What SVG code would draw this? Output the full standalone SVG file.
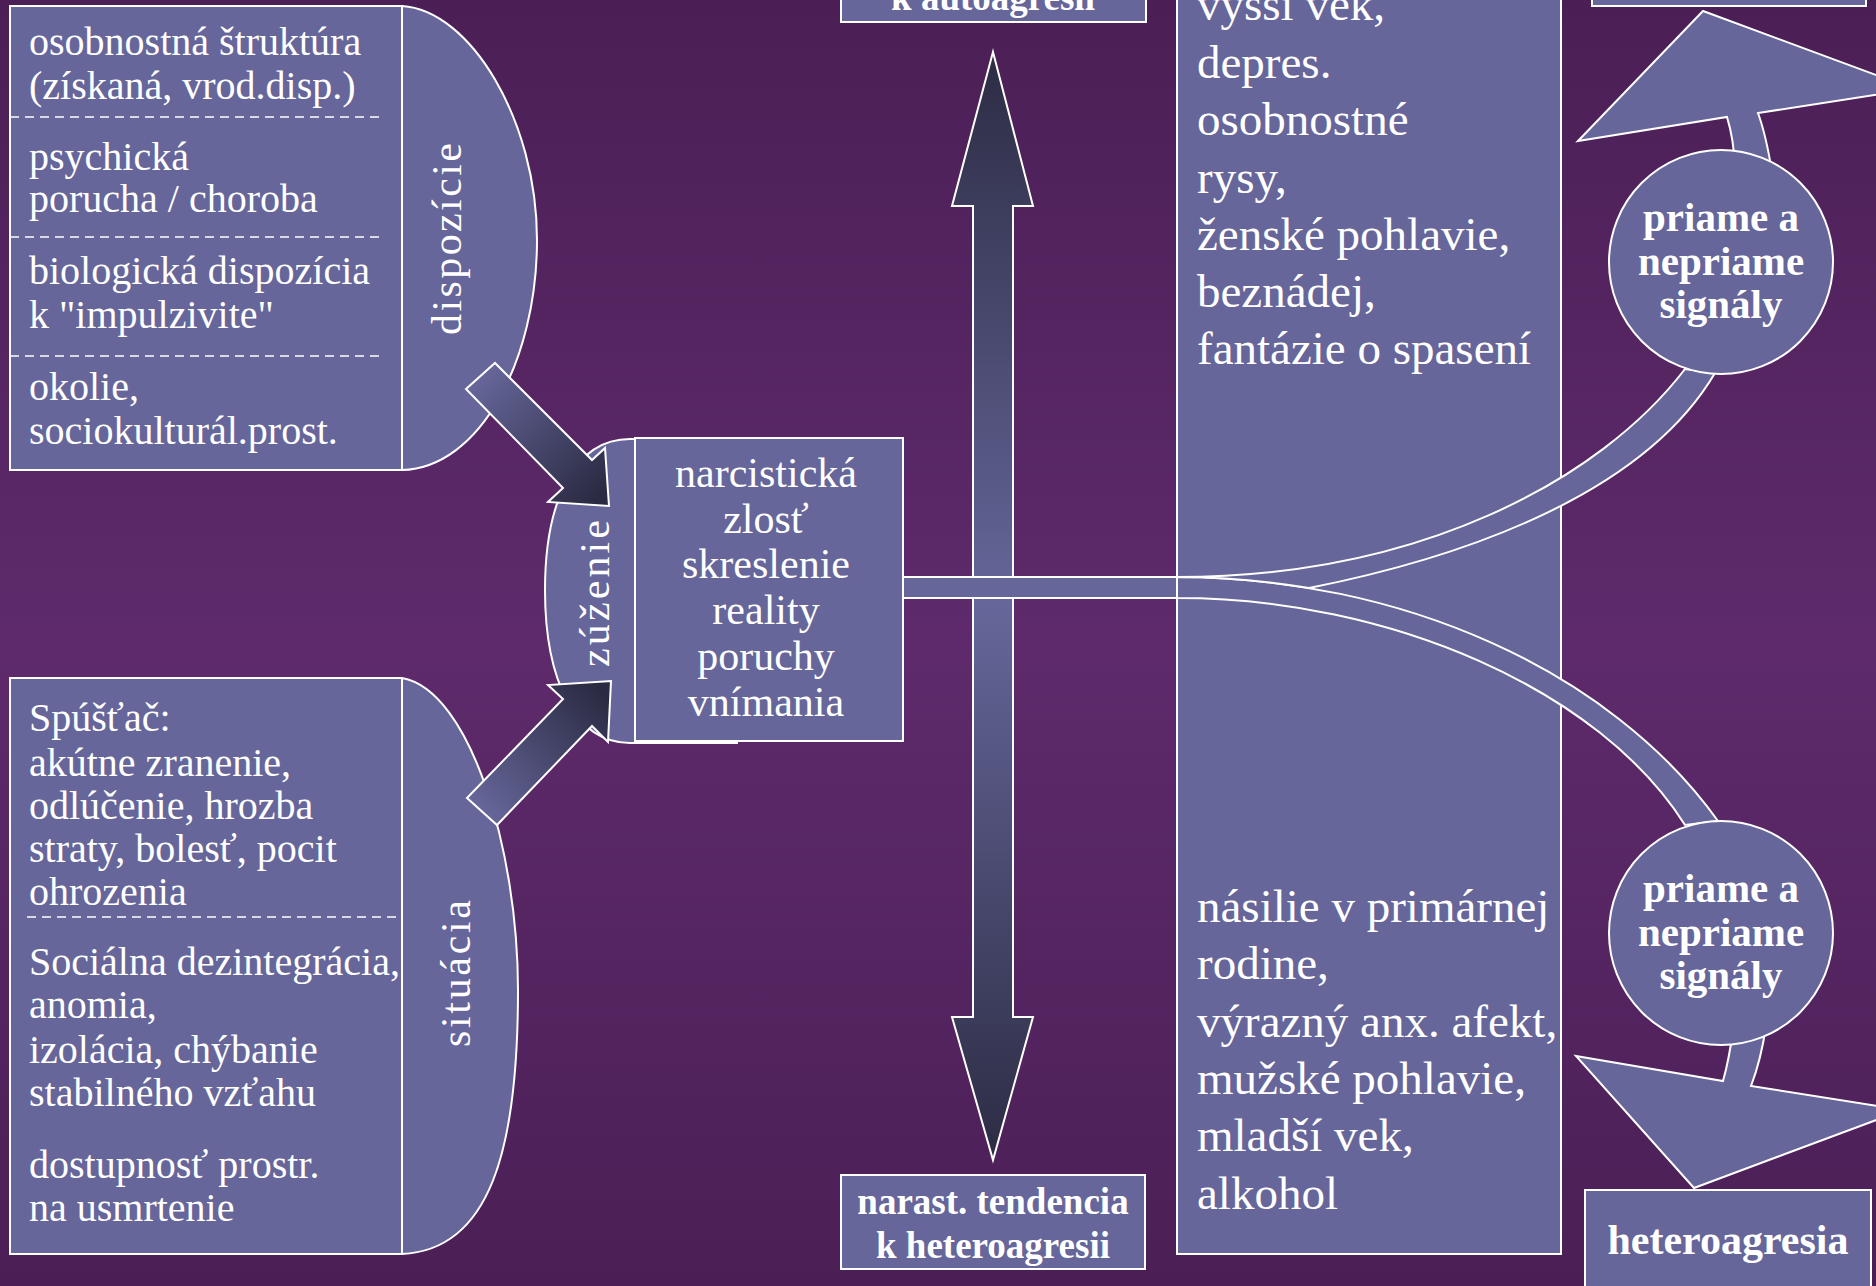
<svg xmlns="http://www.w3.org/2000/svg" width="1876" height="1286" viewBox="0 0 1876 1286">
<defs>
<linearGradient id="bg" x1="0" y1="0" x2="0" y2="1">
<stop offset="0" stop-color="#4b1f56"/>
<stop offset="0.5" stop-color="#5e2a6b"/>
<stop offset="1" stop-color="#4b1f56"/>
</linearGradient>
<linearGradient id="gv" gradientUnits="userSpaceOnUse" x1="0" y1="52" x2="0" y2="1160">
<stop offset="0" stop-color="#2c2c44"/>
<stop offset="0.5" stop-color="#66669a"/>
<stop offset="1" stop-color="#2c2c44"/>
</linearGradient>
<linearGradient id="gd1" gradientUnits="userSpaceOnUse" x1="480" y1="376" x2="600" y2="497">
<stop offset="0" stop-color="#66669a"/>
<stop offset="1" stop-color="#2a2a42"/>
</linearGradient>
<linearGradient id="gd2" gradientUnits="userSpaceOnUse" x1="482" y1="812" x2="602" y2="690">
<stop offset="0" stop-color="#66669a"/>
<stop offset="1" stop-color="#2a2a42"/>
</linearGradient>
<style>
.box{fill:#66669a;stroke:#ffffff;stroke-width:2}
.ln{fill:none;stroke:#ffffff;stroke-width:2}
.dash{fill:none;stroke:#ffffff;stroke-width:1.5;stroke-dasharray:9 6}
.t{font-family:"Liberation Serif","Times New Roman",serif;fill:#ffffff}
.s40{font-size:40px}
.s42{font-size:42px}
.s47{font-size:47px}
.b{font-weight:bold}
.m{text-anchor:middle}
.arr{stroke:#ffffff;stroke-width:2}
</style>
</defs>
<rect x="0" y="0" width="1876" height="1286" fill="url(#bg)"/>

<g id="risk-factors">
<rect class="box" x="1177" y="-10" width="384" height="1264"/>
<text class="t s47" x="1197" y="20">vyšší vek,</text>
<text class="t s47" x="1197" y="78">depres.</text>
<text class="t s47" x="1197" y="135">osobnostné</text>
<text class="t s47" x="1197" y="193">rysy,</text>
<text class="t s47" x="1197" y="250">ženské pohlavie,</text>
<text class="t s47" x="1197" y="307">beznádej,</text>
<text class="t s47" x="1197" y="364">fantázie o spasení</text>
<text class="t s47" x="1197" y="922">násilie v primárnej</text>
<text class="t s47" x="1197" y="979">rodine,</text>
<text class="t s47" x="1197" y="1037">výrazný anx. afekt,</text>
<text class="t s47" x="1197" y="1094">mužské pohlavie,</text>
<text class="t s47" x="1197" y="1151">mladší vek,</text>
<text class="t s47" x="1197" y="1209">alkohol</text>
</g>

<g id="dispozicie">
<path class="box" d="M10,6 H402 C470,10 537,120 537,240 C537,360 480,468 402,470 H10 Z"/>
<line class="ln" x1="402" y1="6" x2="402" y2="470"/>
<line class="dash" x1="10" y1="117" x2="382" y2="117"/>
<line class="dash" x1="10" y1="237" x2="382" y2="237"/>
<line class="dash" x1="10" y1="356" x2="382" y2="356"/>
<text class="t s40" x="29" y="55">osobnostná štruktúra</text>
<text class="t s40" x="29" y="99">(získaná, vrod.disp.)</text>
<text class="t s40" x="29" y="170">psychická</text>
<text class="t s40" x="29" y="212">porucha / choroba</text>
<text class="t s40" x="29" y="284">biologická dispozícia</text>
<text class="t s40" x="29" y="328">k &quot;impulzivite&quot;</text>
<text class="t s40" x="29" y="400">okolie,</text>
<text class="t s40" x="29" y="444">sociokulturál.prost.</text>
<text class="t s42" transform="translate(461,335) rotate(-90)" textLength="192" lengthAdjust="spacing">dispozície</text>
</g>

<g id="situacia">
<path class="box" d="M10,678 H402 C470,690 518,850 518,990 C518,1150 490,1250 402,1254 H10 Z"/>
<line class="ln" x1="402" y1="678" x2="402" y2="1254"/>
<line class="dash" x1="27" y1="917" x2="399" y2="917"/>
<text class="t s40" x="29" y="731">Spúšťač:</text>
<text class="t s40" x="29" y="776">akútne zranenie,</text>
<text class="t s40" x="29" y="819">odlúčenie, hrozba</text>
<text class="t s40" x="29" y="862">straty, bolesť, pocit</text>
<text class="t s40" x="29" y="905">ohrozenia</text>
<text class="t s40" x="29" y="975">Sociálna dezintegrácia,</text>
<text class="t s40" x="29" y="1018">anomia,</text>
<text class="t s40" x="29" y="1063">izolácia, chýbanie</text>
<text class="t s40" x="29" y="1106">stabilného vzťahu</text>
<text class="t s40" x="29" y="1178">dostupnosť prostr.</text>
<text class="t s40" x="29" y="1221">na usmrtenie</text>
<text class="t s42" transform="translate(470,1047) rotate(-90)" textLength="147" lengthAdjust="spacing">situácia</text>
</g>

<g id="zuzenie">
<path class="box" d="M738,743 H630 C575,743 545,680 545,590 C545,500 575,439 630,439 H738"/>
<text class="t s42" transform="translate(609,667) rotate(-90)" textLength="147" lengthAdjust="spacing">zúženie</text>
</g>

<g id="connectors">
<path id="vertical-double-arrow" class="arr" d="M993,52 L1033,206 L1013,206 L1013,1017 L1033,1017 L993,1160 L952,1017 L973,1017 L973,206 L952,206 Z" fill="url(#gv)"/>
<rect id="bar" class="box" x="903" y="577" width="274" height="21"/>
<path id="arrow-dispozicie" class="arr" d="M466,389 L495,363 L592,460 L605,448 L609,506 L548,502 L563,488 Z" fill="url(#gd1)"/>
<path id="arrow-situacia" class="arr" d="M467,798 L497,825 L592,726 L608,742 L611,681 L548,685 L563,699 Z" fill="url(#gd2)"/>
<path id="branch-down" class="box" d="M1177,577 C1400,577 1610,670 1718,821 L1685,825 C1600,690 1390,598 1177,598 Z"/>
<path id="branch-up" class="box" d="M1177,577 C1420,577 1600,480 1685,369 L1715,373 C1640,500 1450,560 1309,588 C1265.7,580.7 1221.6,577 1177,577 Z"/>
<path id="arrowhead-up" class="box" d="M1578,141 L1703,11 L1914,89 L1758,113 Q1766,135 1772,172 L1735,168 Q1734,140 1727,117 Z"/>
<path id="arrowhead-down" class="box" d="M1576,1056 L1723,1081 Q1729,1060 1733,1030 L1766,1026 Q1761,1060 1751,1086 L1903,1110 L1694,1188 Z"/>
</g>

<g id="narcisticka">
<rect class="box" x="635" y="438" width="268" height="303"/>
<text class="t s42 m" x="766" y="487">narcistická</text>
<text class="t s42 m" x="766" y="533">zlosť</text>
<text class="t s42 m" x="766" y="578">skreslenie</text>
<text class="t s42 m" x="766" y="624">reality</text>
<text class="t s42 m" x="766" y="670">poruchy</text>
<text class="t s42 m" x="766" y="716">vnímania</text>
</g>

<g id="signaly-top">
<circle class="box" cx="1721" cy="262" r="112"/>
<text class="t b m" font-size="41" x="1721" y="231">priame a</text>
<text class="t b m" font-size="41" x="1721" y="275">nepriame</text>
<text class="t b m" font-size="41" x="1721" y="318">signály</text>
</g>

<g id="signaly-bottom">
<circle class="box" cx="1721" cy="933" r="112"/>
<text class="t b m" font-size="41" x="1721" y="902">priame a</text>
<text class="t b m" font-size="41" x="1721" y="946">nepriame</text>
<text class="t b m" font-size="41" x="1721" y="989">signály</text>
</g>

<g id="autoagresia">
<rect class="box" x="1592" y="-20" width="274" height="26"/>
</g>

<g id="tendencia-auto">
<rect class="box" x="841" y="-60" width="305" height="82"/>
<text class="t b m" font-size="37" x="993" y="10">k autoagresii</text>
</g>

<g id="tendencia-hetero">
<rect class="box" x="841" y="1175" width="304" height="94"/>
<text class="t b m" font-size="37" x="993" y="1214">narast. tendencia</text>
<text class="t b m" font-size="37" x="993" y="1258">k heteroagresii</text>
</g>

<g id="heteroagresia">
<rect class="box" x="1585" y="1190" width="286" height="120"/>
<text class="t b m" font-size="42" x="1728" y="1254">heteroagresia</text>
</g>
</svg>
